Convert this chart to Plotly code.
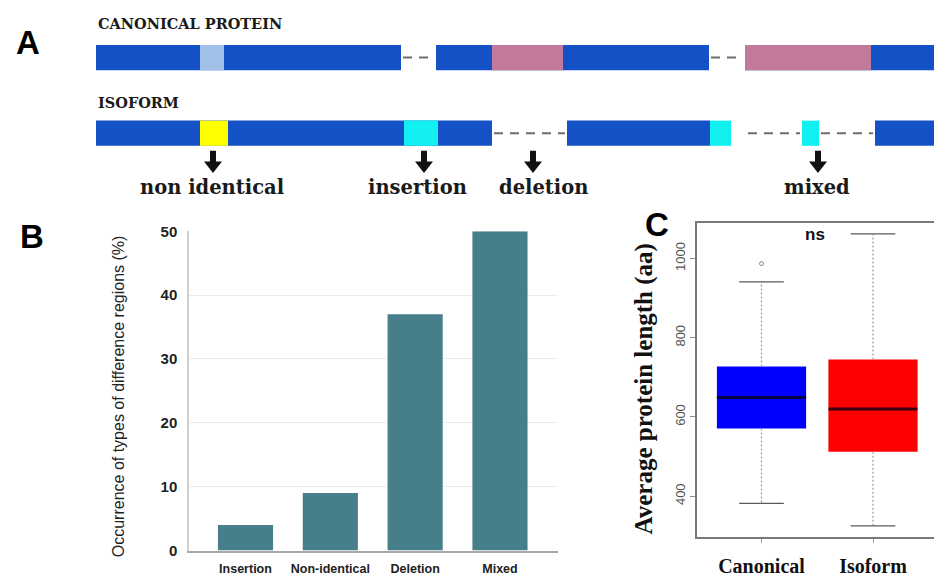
import plotly.graph_objects as go

# ---------------- data ----------------
# Panel A: protein architecture schematic (positions in residue units)
canon_blocks = [(0, 305), (340, 613), (649, 840)]
canon_gaps = [(305, 340), (613, 649)]
canon_regions = [(104, 128, "shifted"), (396, 467, "variant"), (649, 775, "variant")]

iso_blocks = [(0, 396), (471, 614), (779, 840)]
iso_gaps = [(396, 471), (650, 706), (723, 779)]
iso_regions = [(104, 132, "non_identical"), (308, 342, "inserted"),
               (614, 635, "inserted"), (706, 723, "inserted")]

diff_labels = ["non identical", "insertion", "deletion", "mixed"]
diff_arrow_pos = [117, 328, 437, 722]
diff_label_pos = [116, 321, 447, 721]

# Panel B: occurrence of difference-region types (%)
diff_types = ["Insertion", "Non-identical", "Deletion", "Mixed"]
diff_occurrence = [4, 9, 37, 50]

# Panel C: protein length distributions (aa)
groups = ["Canonical", "Isoform"]
len_lower = [382, 325]
len_q1 = [571, 512]
len_median = [649, 620]
len_q3 = [727, 745]
len_upper = [941, 1062]
len_outliers = [[987], []]

# ---------------- styles ----------------
W, H = 934, 578
BLOCK_BLUE = "#1450c6"
REGION_COLORS = {"shifted": "#a2c1e9", "variant": "#c27a9b",
                 "non_identical": "#ffff00", "inserted": "#12f0f2"}
BOX_COLORS = ["#0000ff", "#ff0000"]
BAR_COLOR = "#467f8a"


def px_x(x):
    return x / W


def px_y(y):
    return 1 - y / H


fig = go.Figure()

# ---------------- panel B: bar chart ----------------
fig.add_trace(go.Bar(
    x=list(range(len(diff_types))), y=diff_occurrence,
    marker=dict(color=BAR_COLOR, line=dict(width=0)), width=0.65,
    xaxis="x", yaxis="y", showlegend=False, hoverinfo="x+y"))

# ---------------- panel C: box plots ----------------
for i, g in enumerate(groups):
    pos = i + 1
    fig.add_trace(go.Box(
        x=[pos], q1=[len_q1[i]], median=[len_median[i]], q3=[len_q3[i]],
        lowerfence=[len_lower[i]], upperfence=[len_upper[i]],
        width=0.8, fillcolor=BOX_COLORS[i], line=dict(width=0, color=BOX_COLORS[i]),
        boxpoints=False, xaxis="x2", yaxis="y2", showlegend=False, name=g))
    # dotted whiskers
    fig.add_trace(go.Scatter(
        x=[pos, pos, None, pos, pos],
        y=[len_q3[i], len_upper[i], None, len_q1[i], len_lower[i]],
        mode="lines", line=dict(color="#9a9a9a", width=1.2, dash="2px,2px"),
        xaxis="x2", yaxis="y2", showlegend=False, hoverinfo="skip"))
    # whisker caps
    fig.add_trace(go.Scatter(
        x=[pos - 0.2, pos + 0.2, None, pos - 0.2, pos + 0.2],
        y=[len_upper[i], len_upper[i], None, len_lower[i], len_lower[i]],
        mode="lines", line=dict(color="#5a5a5a", width=1.3),
        xaxis="x2", yaxis="y2", showlegend=False, hoverinfo="skip"))
    # median
    fig.add_trace(go.Scatter(
        x=[pos - 0.4, pos + 0.4], y=[len_median[i], len_median[i]],
        mode="lines", line=dict(color="rgba(10,0,20,0.8)", width=3),
        xaxis="x2", yaxis="y2", showlegend=False, hoverinfo="skip"))
    if len_outliers[i]:
        fig.add_trace(go.Scatter(
            x=[pos] * len(len_outliers[i]), y=len_outliers[i], mode="markers",
            marker=dict(symbol="circle-open", size=4, color="#888888", line=dict(width=1)),
            xaxis="x2", yaxis="y2", showlegend=False, hoverinfo="y"))

# ---------------- panel A: schematic ----------------
shapes = []
CANON_Y = (37, 63)
ISO_Y = (115, 141)


def add_row(blocks, gaps, regions, yr):
    y0, y1 = yr
    ym = (y0 + y1) / 2
    for a, b in blocks:
        shapes.append(dict(type="rect", xref="x3", yref="y3", x0=a, x1=b, y0=y0, y1=y1,
                           fillcolor=BLOCK_BLUE, line=dict(width=0)))
    for a, b, kind in regions:
        shapes.append(dict(type="rect", xref="x3", yref="y3", x0=a, x1=b, y0=y0, y1=y1,
                           fillcolor=REGION_COLORS[kind], line=dict(width=0)))
    for a, b in gaps:
        shapes.append(dict(type="line", xref="x3", yref="y3", x0=a + 2, x1=b - 2, y0=ym, y1=ym,
                           line=dict(color="#6e6e6e", width=2, dash="9px,7px")))


add_row(canon_blocks, canon_gaps, canon_regions, CANON_Y)
add_row(iso_blocks, iso_gaps, iso_regions, ISO_Y)

for cx in diff_arrow_pos:
    path = (f"M {cx-3},146 L {cx+3},146 L {cx+3},157 L {cx+9},157 "
            f"L {cx},169 L {cx-9},157 L {cx-3},157 Z")
    shapes.append(dict(type="path", xref="x3", yref="y3", path=path,
                       fillcolor="#111111", line=dict(width=0)))

annotations = []
serif_bold = dict(family="DejaVu Serif", color="#1a1a1a", weight="bold")
annotations.append(dict(text="CANONICAL PROTEIN", xref="x3", yref="y3", x=0, y=15,
                        xanchor="left", yanchor="middle", showarrow=False,
                        font=dict(size=14.5, **serif_bold)))
annotations.append(dict(text="ISOFORM", xref="x3", yref="y3", x=0, y=96,
                        xanchor="left", yanchor="middle", showarrow=False,
                        font=dict(size=14.5, **serif_bold)))
for lbl, lx in zip(diff_labels, diff_label_pos):
    annotations.append(dict(text=lbl, xref="x3", yref="y3", x=lx, y=184,
                            xanchor="center", yanchor="middle", showarrow=False,
                            font=dict(size=19.5, **serif_bold)))

# panel letters
for letter, (lx, ly) in {"A": (28, 34), "B": (32, 234), "C": (657, 222)}.items():
    annotations.append(dict(text=letter, xref="paper", yref="paper", x=px_x(lx), y=px_y(ly),
                            xanchor="center", yanchor="middle", showarrow=False,
                            font=dict(family="Liberation Sans", size=33, color="#000",
                                      weight="bold")))

# panel B y title
annotations.append(dict(text="Occurrence of types of difference regions (%)",
                        xref="paper", yref="paper", x=px_x(118), y=px_y(399),
                        textangle=-90, showarrow=False, xanchor="center", yanchor="middle",
                        font=dict(family="Liberation Sans", size=16, color="#222")))
# panel C y title
annotations.append(dict(text="Average protein length (aa)",
                        xref="paper", yref="paper", x=px_x(644), y=px_y(392),
                        textangle=-90, showarrow=False, xanchor="center", yanchor="middle",
                        font=dict(family="Liberation Serif", size=25, color="#111",
                                  weight="bold")))
# significance marker
annotations.append(dict(text="ns", xref="x2", yref="paper", x=1.48, y=px_y(232),
                        showarrow=False, xanchor="center", yanchor="middle",
                        font=dict(family="Liberation Sans", size=17, color="#111",
                                  weight="bold")))

# ---------------- layout ----------------
fig.update_layout(
    width=W, height=H, autosize=False,
    margin=dict(l=0, r=0, t=0, b=0),
    paper_bgcolor="white", plot_bgcolor="rgba(0,0,0,0)",
    shapes=shapes, annotations=annotations, bargap=0.35,
    xaxis=dict(domain=[px_x(189), px_x(558)], range=[-0.666, 3.684],
               tickvals=list(range(len(diff_types))), ticktext=diff_types,
               showline=True, linecolor="#a8a8a8", linewidth=1.5,
               showgrid=False, zeroline=False, ticks="", ticklabelstandoff=6,
               tickfont=dict(family="Liberation Sans", size=12.5, color="#222", weight="bold"),
               anchor="y", fixedrange=True),
    yaxis=dict(domain=[px_y(558), px_y(229)], range=[0, 50],
               tickvals=[0, 10, 20, 30, 40, 50],
               showline=True, linecolor="#cfcfcf", linewidth=1.5,
               showgrid=True, gridcolor="#ececec", gridwidth=1, zeroline=False,
               ticks="outside", ticklen=7, tickcolor="rgba(0,0,0,0)",
               tickfont=dict(family="Liberation Sans", size=15, color="#222", weight="bold"),
               anchor="x", fixedrange=True),
    xaxis2=dict(domain=[px_x(697), 1.0], range=[0.4215, 2.547],
                tickvals=[1, 2], ticktext=groups,
                showline=True, mirror=True, linecolor="#7a7a7a", linewidth=1.5,
                showgrid=False, zeroline=False, ticks="outside", ticklen=4,
                tickcolor="#9a9a9a", ticklabelstandoff=6,
                tickfont=dict(family="Liberation Serif", size=20, color="#111", weight="bold"),
                anchor="y2", fixedrange=True),
    yaxis2=dict(domain=[px_y(544), px_y(220)], range=[297, 1090.6],
                tickvals=[400, 600, 800, 1000], tickangle=-90,
                showline=True, linecolor="#7a7a7a", linewidth=1.5,
                showgrid=False, zeroline=False, ticks="outside", ticklen=5,
                tickcolor="#8a8a8a",
                tickfont=dict(family="Liberation Sans", size=13, color="#555"),
                anchor="x2", fixedrange=True),
    xaxis3=dict(domain=[0, 1], range=[-96, 838], visible=False, anchor="y3",
                fixedrange=True),
    yaxis3=dict(domain=[0, 1], range=[578, 0], visible=False, anchor="x3",
                fixedrange=True),
)

fig.write_html("out.html")
